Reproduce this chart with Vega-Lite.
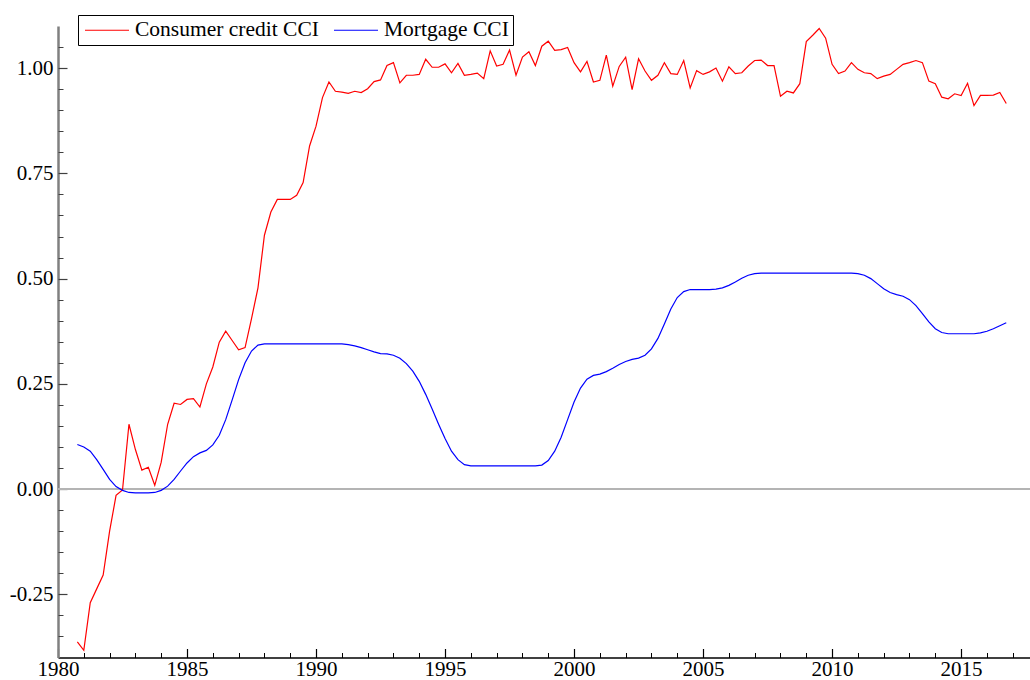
{
"$schema": "https://vega.github.io/schema/vega-lite/v6.json",
"width": 972, "height": 631.5,
"autosize": {"type": "none"},
"padding": {"left": 58, "top": 26, "right": 0, "bottom": 22.5},
"background": "white",
"config": {"view": {"stroke": null}, "font": "Liberation Serif, Times New Roman, serif", "axis": {"grid": false, "title": null, "labelFont": "Liberation Serif, Times New Roman, serif", "labelFontSize": 21}},
"data": {"values": [
{"t":1980.75,"Consumer credit CCI":-0.363,"Mortgage CCI":0.106},
{"t":1981,"Consumer credit CCI":-0.383,"Mortgage CCI":0.100},
{"t":1981.25,"Consumer credit CCI":-0.270,"Mortgage CCI":0.090},
{"t":1981.5,"Consumer credit CCI":-0.237,"Mortgage CCI":0.070},
{"t":1981.75,"Consumer credit CCI":-0.204,"Mortgage CCI":0.047},
{"t":1982,"Consumer credit CCI":-0.100,"Mortgage CCI":0.023},
{"t":1982.25,"Consumer credit CCI":-0.015,"Mortgage CCI":0.006},
{"t":1982.5,"Consumer credit CCI":-0.002,"Mortgage CCI":-0.003},
{"t":1982.75,"Consumer credit CCI":0.154,"Mortgage CCI":-0.008},
{"t":1983,"Consumer credit CCI":0.094,"Mortgage CCI":-0.009},
{"t":1983.25,"Consumer credit CCI":0.045,"Mortgage CCI":-0.009},
{"t":1983.5,"Consumer credit CCI":0.052,"Mortgage CCI":-0.009},
{"t":1983.75,"Consumer credit CCI":0.009,"Mortgage CCI":-0.008},
{"t":1984,"Consumer credit CCI":0.064,"Mortgage CCI":-0.003},
{"t":1984.25,"Consumer credit CCI":0.154,"Mortgage CCI":0.007},
{"t":1984.5,"Consumer credit CCI":0.204,"Mortgage CCI":0.023},
{"t":1984.75,"Consumer credit CCI":0.201,"Mortgage CCI":0.043},
{"t":1985,"Consumer credit CCI":0.213,"Mortgage CCI":0.062},
{"t":1985.25,"Consumer credit CCI":0.215,"Mortgage CCI":0.077},
{"t":1985.5,"Consumer credit CCI":0.195,"Mortgage CCI":0.086},
{"t":1985.75,"Consumer credit CCI":0.250,"Mortgage CCI":0.092},
{"t":1986,"Consumer credit CCI":0.290,"Mortgage CCI":0.105},
{"t":1986.25,"Consumer credit CCI":0.349,"Mortgage CCI":0.128},
{"t":1986.5,"Consumer credit CCI":0.375,"Mortgage CCI":0.165},
{"t":1986.75,"Consumer credit CCI":0.353,"Mortgage CCI":0.212},
{"t":1987,"Consumer credit CCI":0.331,"Mortgage CCI":0.260},
{"t":1987.25,"Consumer credit CCI":0.336,"Mortgage CCI":0.300},
{"t":1987.5,"Consumer credit CCI":0.405,"Mortgage CCI":0.328},
{"t":1987.75,"Consumer credit CCI":0.478,"Mortgage CCI":0.342},
{"t":1988,"Consumer credit CCI":0.603,"Mortgage CCI":0.345},
{"t":1988.25,"Consumer credit CCI":0.658,"Mortgage CCI":0.345},
{"t":1988.5,"Consumer credit CCI":0.688,"Mortgage CCI":0.345},
{"t":1988.75,"Consumer credit CCI":0.688,"Mortgage CCI":0.345},
{"t":1989,"Consumer credit CCI":0.688,"Mortgage CCI":0.345},
{"t":1989.25,"Consumer credit CCI":0.698,"Mortgage CCI":0.345},
{"t":1989.5,"Consumer credit CCI":0.728,"Mortgage CCI":0.345},
{"t":1989.75,"Consumer credit CCI":0.815,"Mortgage CCI":0.345},
{"t":1990,"Consumer credit CCI":0.862,"Mortgage CCI":0.345},
{"t":1990.25,"Consumer credit CCI":0.930,"Mortgage CCI":0.345},
{"t":1990.5,"Consumer credit CCI":0.967,"Mortgage CCI":0.345},
{"t":1990.75,"Consumer credit CCI":0.945,"Mortgage CCI":0.345},
{"t":1991,"Consumer credit CCI":0.943,"Mortgage CCI":0.345},
{"t":1991.25,"Consumer credit CCI":0.940,"Mortgage CCI":0.343},
{"t":1991.5,"Consumer credit CCI":0.945,"Mortgage CCI":0.340},
{"t":1991.75,"Consumer credit CCI":0.942,"Mortgage CCI":0.336},
{"t":1992,"Consumer credit CCI":0.951,"Mortgage CCI":0.331},
{"t":1992.25,"Consumer credit CCI":0.968,"Mortgage CCI":0.326},
{"t":1992.5,"Consumer credit CCI":0.972,"Mortgage CCI":0.322},
{"t":1992.75,"Consumer credit CCI":1.006,"Mortgage CCI":0.321},
{"t":1993,"Consumer credit CCI":1.013,"Mortgage CCI":0.318},
{"t":1993.25,"Consumer credit CCI":0.965,"Mortgage CCI":0.311},
{"t":1993.5,"Consumer credit CCI":0.983,"Mortgage CCI":0.298},
{"t":1993.75,"Consumer credit CCI":0.983,"Mortgage CCI":0.280},
{"t":1994,"Consumer credit CCI":0.985,"Mortgage CCI":0.256},
{"t":1994.25,"Consumer credit CCI":1.021,"Mortgage CCI":0.225},
{"t":1994.5,"Consumer credit CCI":1.002,"Mortgage CCI":0.190},
{"t":1994.75,"Consumer credit CCI":1.002,"Mortgage CCI":0.154},
{"t":1995,"Consumer credit CCI":1.010,"Mortgage CCI":0.120},
{"t":1995.25,"Consumer credit CCI":0.989,"Mortgage CCI":0.090},
{"t":1995.5,"Consumer credit CCI":1.011,"Mortgage CCI":0.070},
{"t":1995.75,"Consumer credit CCI":0.983,"Mortgage CCI":0.058},
{"t":1996,"Consumer credit CCI":0.985,"Mortgage CCI":0.055},
{"t":1996.25,"Consumer credit CCI":0.988,"Mortgage CCI":0.055},
{"t":1996.5,"Consumer credit CCI":0.975,"Mortgage CCI":0.055},
{"t":1996.75,"Consumer credit CCI":1.041,"Mortgage CCI":0.055},
{"t":1997,"Consumer credit CCI":1.005,"Mortgage CCI":0.055},
{"t":1997.25,"Consumer credit CCI":1.009,"Mortgage CCI":0.055},
{"t":1997.5,"Consumer credit CCI":1.043,"Mortgage CCI":0.055},
{"t":1997.75,"Consumer credit CCI":0.983,"Mortgage CCI":0.055},
{"t":1998,"Consumer credit CCI":1.026,"Mortgage CCI":0.055},
{"t":1998.25,"Consumer credit CCI":1.039,"Mortgage CCI":0.055},
{"t":1998.5,"Consumer credit CCI":1.006,"Mortgage CCI":0.055},
{"t":1998.75,"Consumer credit CCI":1.052,"Mortgage CCI":0.057},
{"t":1999,"Consumer credit CCI":1.064,"Mortgage CCI":0.068},
{"t":1999.25,"Consumer credit CCI":1.042,"Mortgage CCI":0.090},
{"t":1999.5,"Consumer credit CCI":1.044,"Mortgage CCI":0.123},
{"t":1999.75,"Consumer credit CCI":1.049,"Mortgage CCI":0.165},
{"t":2000,"Consumer credit CCI":1.013,"Mortgage CCI":0.207},
{"t":2000.25,"Consumer credit CCI":0.991,"Mortgage CCI":0.240},
{"t":2000.5,"Consumer credit CCI":1.016,"Mortgage CCI":0.261},
{"t":2000.75,"Consumer credit CCI":0.967,"Mortgage CCI":0.270},
{"t":2001,"Consumer credit CCI":0.971,"Mortgage CCI":0.273},
{"t":2001.25,"Consumer credit CCI":1.031,"Mortgage CCI":0.279},
{"t":2001.5,"Consumer credit CCI":0.957,"Mortgage CCI":0.287},
{"t":2001.75,"Consumer credit CCI":1.004,"Mortgage CCI":0.296},
{"t":2002,"Consumer credit CCI":1.026,"Mortgage CCI":0.303},
{"t":2002.25,"Consumer credit CCI":0.949,"Mortgage CCI":0.308},
{"t":2002.5,"Consumer credit CCI":1.022,"Mortgage CCI":0.311},
{"t":2002.75,"Consumer credit CCI":0.993,"Mortgage CCI":0.318},
{"t":2003,"Consumer credit CCI":0.971,"Mortgage CCI":0.333},
{"t":2003.25,"Consumer credit CCI":0.983,"Mortgage CCI":0.358},
{"t":2003.5,"Consumer credit CCI":1.013,"Mortgage CCI":0.392},
{"t":2003.75,"Consumer credit CCI":0.987,"Mortgage CCI":0.428},
{"t":2004,"Consumer credit CCI":0.985,"Mortgage CCI":0.455},
{"t":2004.25,"Consumer credit CCI":1.018,"Mortgage CCI":0.469},
{"t":2004.5,"Consumer credit CCI":0.953,"Mortgage CCI":0.474},
{"t":2004.75,"Consumer credit CCI":0.994,"Mortgage CCI":0.474},
{"t":2005,"Consumer credit CCI":0.985,"Mortgage CCI":0.474},
{"t":2005.25,"Consumer credit CCI":0.991,"Mortgage CCI":0.474},
{"t":2005.5,"Consumer credit CCI":1.000,"Mortgage CCI":0.475},
{"t":2005.75,"Consumer credit CCI":0.969,"Mortgage CCI":0.478},
{"t":2006,"Consumer credit CCI":1.003,"Mortgage CCI":0.484},
{"t":2006.25,"Consumer credit CCI":0.987,"Mortgage CCI":0.492},
{"t":2006.5,"Consumer credit CCI":0.989,"Mortgage CCI":0.501},
{"t":2006.75,"Consumer credit CCI":1.005,"Mortgage CCI":0.508},
{"t":2007,"Consumer credit CCI":1.018,"Mortgage CCI":0.512},
{"t":2007.25,"Consumer credit CCI":1.019,"Mortgage CCI":0.513},
{"t":2007.5,"Consumer credit CCI":1.006,"Mortgage CCI":0.513},
{"t":2007.75,"Consumer credit CCI":1.006,"Mortgage CCI":0.513},
{"t":2008,"Consumer credit CCI":0.933,"Mortgage CCI":0.513},
{"t":2008.25,"Consumer credit CCI":0.945,"Mortgage CCI":0.513},
{"t":2008.5,"Consumer credit CCI":0.941,"Mortgage CCI":0.513},
{"t":2008.75,"Consumer credit CCI":0.963,"Mortgage CCI":0.513},
{"t":2009,"Consumer credit CCI":1.063,"Mortgage CCI":0.513},
{"t":2009.25,"Consumer credit CCI":1.078,"Mortgage CCI":0.513},
{"t":2009.5,"Consumer credit CCI":1.094,"Mortgage CCI":0.513},
{"t":2009.75,"Consumer credit CCI":1.071,"Mortgage CCI":0.513},
{"t":2010,"Consumer credit CCI":1.009,"Mortgage CCI":0.513},
{"t":2010.25,"Consumer credit CCI":0.987,"Mortgage CCI":0.513},
{"t":2010.5,"Consumer credit CCI":0.993,"Mortgage CCI":0.513},
{"t":2010.75,"Consumer credit CCI":1.013,"Mortgage CCI":0.513},
{"t":2011,"Consumer credit CCI":0.997,"Mortgage CCI":0.512},
{"t":2011.25,"Consumer credit CCI":0.989,"Mortgage CCI":0.508},
{"t":2011.5,"Consumer credit CCI":0.987,"Mortgage CCI":0.500},
{"t":2011.75,"Consumer credit CCI":0.975,"Mortgage CCI":0.488},
{"t":2012,"Consumer credit CCI":0.981,"Mortgage CCI":0.476},
{"t":2012.25,"Consumer credit CCI":0.985,"Mortgage CCI":0.467},
{"t":2012.5,"Consumer credit CCI":0.997,"Mortgage CCI":0.462},
{"t":2012.75,"Consumer credit CCI":1.009,"Mortgage CCI":0.458},
{"t":2013,"Consumer credit CCI":1.013,"Mortgage CCI":0.450},
{"t":2013.25,"Consumer credit CCI":1.018,"Mortgage CCI":0.436},
{"t":2013.5,"Consumer credit CCI":1.013,"Mortgage CCI":0.417},
{"t":2013.75,"Consumer credit CCI":0.969,"Mortgage CCI":0.397},
{"t":2014,"Consumer credit CCI":0.963,"Mortgage CCI":0.381},
{"t":2014.25,"Consumer credit CCI":0.931,"Mortgage CCI":0.372},
{"t":2014.5,"Consumer credit CCI":0.927,"Mortgage CCI":0.369},
{"t":2014.75,"Consumer credit CCI":0.939,"Mortgage CCI":0.369},
{"t":2015,"Consumer credit CCI":0.935,"Mortgage CCI":0.369},
{"t":2015.25,"Consumer credit CCI":0.964,"Mortgage CCI":0.369},
{"t":2015.5,"Consumer credit CCI":0.911,"Mortgage CCI":0.369},
{"t":2015.75,"Consumer credit CCI":0.935,"Mortgage CCI":0.371},
{"t":2016,"Consumer credit CCI":0.935,"Mortgage CCI":0.375},
{"t":2016.25,"Consumer credit CCI":0.936,"Mortgage CCI":0.381},
{"t":2016.5,"Consumer credit CCI":0.942,"Mortgage CCI":0.388},
{"t":2016.75,"Consumer credit CCI":0.916,"Mortgage CCI":0.395}
]},
"layer": [
{
"data": {"values": [{"z": 0}]},
"mark": {"type": "rule", "color": "#b4b4b4", "strokeWidth": 2},
"encoding": {"y": {"field": "z", "type": "quantitative", "scale": {"domain": [-0.4, 1.1], "nice": false, "zero": false}, "axis": null}}
},
{
"transform": [{"fold": ["Consumer credit CCI", "Mortgage CCI"], "as": ["series", "value"]}],
"mark": {"type": "line", "strokeWidth": 1.2},
"encoding": {
"x": {"field": "t", "type": "quantitative", "scale": {"domain": [1980, 2017.67], "nice": false, "zero": false},
"axis": {"orient": "bottom", "values": [1980, 1985, 1990, 1995, 2000, 2005, 2010, 2015], "format": "d", "ticks": false, "labelFont": "Liberation Serif, Times New Roman, serif", "labelFontSize": 21, "labelColor": "black", "labelPadding": 1, "labelFlush": false, "labelOverlap": false, "domainColor": "black", "domainWidth": 1.5,
"encode": {"labels": {"update": {"font": {"value": "Liberation Serif, Times New Roman, serif"}, "fontSize": {"value": 21}, "fill": {"value": "black"}}}}}},
"y": {"field": "value", "type": "quantitative", "scale": {"domain": [-0.4, 1.1], "nice": false, "zero": false},
"axis": {"orient": "left", "values": [-0.25, 0, 0.25, 0.5, 0.75, 1], "labelExpr": "replace(format(datum.value, '.2f'), '\u2212', '-')", "ticks": false, "labelFont": "Liberation Serif, Times New Roman, serif", "labelFontSize": 21, "labelColor": "black", "labelPadding": 5, "labelFlush": false, "labelOverlap": false, "domainColor": "#808080", "domainWidth": 2.5,
"encode": {"labels": {"update": {"font": {"value": "Liberation Serif, Times New Roman, serif"}, "fontSize": {"value": 21}, "fill": {"value": "black"}}}}}},
"color": {"field": "series", "type": "nominal", "scale": {"domain": ["Consumer credit CCI", "Mortgage CCI"], "range": ["#ff0000", "#0000ff"]},
"legend": {"orient": "none", "legendX": 20, "legendY": -11, "direction": "horizontal", "title": null, "strokeColor": "black", "fillColor": "white", "padding": 4, "labelFont": "Liberation Serif, Times New Roman, serif", "labelFontSize": 21.5, "labelColor": "black", "labelLimit": 500, "symbolType": "M-2.2,0H2.2", "symbolSize": 400, "symbolStrokeWidth": 1.2, "symbolOffset": 14, "labelOffset": 17, "columnPadding": 12}}
}
},
{
"transform": [{"fold": ["Consumer credit CCI", "Mortgage CCI"], "as": ["series", "value"]}],
"mark": {"type": "line", "opacity": 0},
"encoding": {
"x": {"field": "t", "type": "quantitative", "axis": {"orient": "bottom", "values": [1980, 1985, 1990, 1995, 2000, 2005, 2010, 2015], "labels": false, "domain": false, "tickSize": -9, "tickColor": "black", "tickWidth": 1.2}},
"y": {"field": "value", "type": "quantitative", "axis": {"orient": "left", "values": [-0.25, 0, 0.25, 0.5, 0.75, 1], "labels": false, "domain": false, "tickSize": -9, "tickColor": "#404040", "tickWidth": 1.2}},
"detail": {"field": "series"}
}
},
{
"transform": [{"fold": ["Consumer credit CCI", "Mortgage CCI"], "as": ["series", "value"]}],
"mark": {"type": "line", "opacity": 0},
"encoding": {
"x": {"field": "t", "type": "quantitative", "axis": {"orient": "bottom", "values": [1981, 1982, 1983, 1984, 1986, 1987, 1988, 1989, 1991, 1992, 1993, 1994, 1996, 1997, 1998, 1999, 2001, 2002, 2003, 2004, 2006, 2007, 2008, 2009, 2011, 2012, 2013, 2014, 2016, 2017], "labels": false, "domain": false, "tickSize": -5, "tickColor": "black", "tickWidth": 1}},
"y": {"field": "value", "type": "quantitative", "axis": {"orient": "left", "values": [-0.35, -0.3, -0.2, -0.15, -0.1, -0.05, 0.05, 0.1, 0.15, 0.2, 0.3, 0.35, 0.4, 0.45, 0.55, 0.6, 0.65, 0.7, 0.8, 0.85, 0.9, 0.95, 1.05], "labels": false, "domain": false, "tickSize": -5, "tickColor": "#404040", "tickWidth": 1}},
"detail": {"field": "series"}
}
}
],
"resolve": {"axis": {"x": "independent", "y": "independent"}}
}
